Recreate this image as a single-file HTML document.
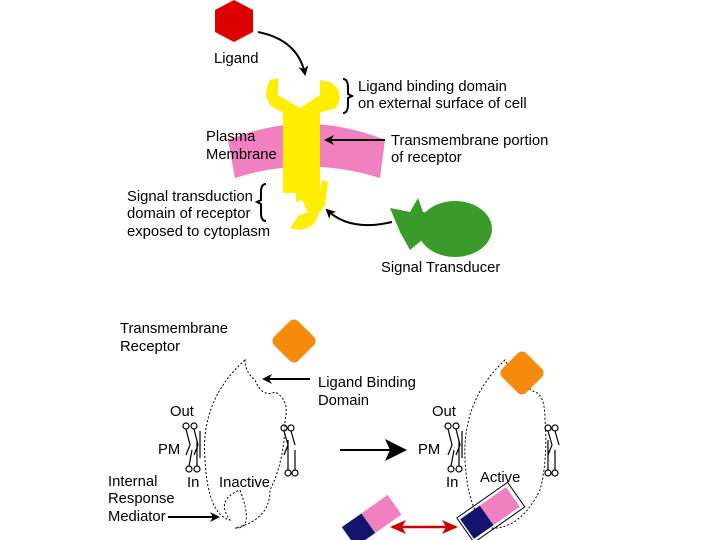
<!DOCTYPE html>
<html><head><meta charset="utf-8"><style>
html,body{margin:0;padding:0;background:#fff}
svg{display:block}
text{font-family:"Liberation Sans",sans-serif;font-size:14.8px;fill:#000}
</style></head><body>
<svg width="720" height="540" viewBox="0 0 720 540">
<defs>
<marker id="ah" markerWidth="10" markerHeight="10" refX="8" refY="5" orient="auto" markerUnits="userSpaceOnUse"><path d="M0,0 L10,5 L0,10 L3,5 Z" fill="#000"/></marker>
<marker id="bh" markerWidth="22" markerHeight="22" refX="20" refY="11" orient="auto" markerUnits="userSpaceOnUse"><path d="M0,0 L22,11 L0,22 L5,11 Z" fill="#000"/></marker>
<marker id="rh" markerWidth="16" markerHeight="14" refX="14" refY="7" orient="auto" markerUnits="userSpaceOnUse"><path d="M0,0 L16,7 L0,14 L4,7 Z" fill="#c00"/></marker>
<marker id="rt" markerWidth="16" markerHeight="14" refX="2" refY="7" orient="auto" markerUnits="userSpaceOnUse"><path d="M16,0 L0,7 L16,14 L12,7 Z" fill="#c00"/></marker>
</defs>
<!-- top -->
<polygon points="234,0 253,10 253,32 234,42 215,32 215,10" fill="#dd0000"/>
<text x="214" y="63">Ligand</text>
<path d="M258,32 Q298,40 305,74" fill="none" stroke="#000" stroke-width="2" marker-end="url(#ah)"/>
<path d="M228,140 Q306,108 385,140 L380,178 Q306,155 235,178 Z" fill="#f080c0"/>
<g fill="#ffee00">
<path d="M270,80 L278,78 L278,95 L300,108 L320,95 L320,80 L330,82 Q346,92 336,108 L322,112 L283,112 Q258,104 270,80 Z"/>
<rect x="283" y="108" width="37" height="85"/>
<path d="M283,190 L320,190 L322,180 L328,182 L325,205 L318,215 Q315,228 300,230 L290,228 L298,216 L308,212 L302,200 L296,202 L296,190 Z"/>
</g>
<path d="M343,79 Q348,79 348,88 L348,94 L352,96 L348,98 L348,104 Q348,113 343,113" fill="none" stroke="#000" stroke-width="2"/>
<text x="358" y="91">Ligand binding domain</text>
<text x="358" y="108">on external surface of cell</text>
<text x="206" y="141">Plasma</text>
<text x="206" y="159">Membrane</text>
<line x1="385" y1="140" x2="326" y2="140" stroke="#000" stroke-width="2" marker-end="url(#ah)"/>
<text x="391" y="145">Transmembrane portion</text>
<text x="391" y="162">of receptor</text>
<path d="M266,184 Q261,184 261,192 L261,200 L257,202 L261,204 L261,213 Q261,221 266,221" fill="none" stroke="#000" stroke-width="2"/>
<text x="127" y="201">Signal transduction</text>
<text x="127" y="218">domain of receptor</text>
<text x="127" y="236">exposed to cytoplasm</text>
<ellipse cx="455" cy="229" rx="37" ry="28" fill="#3a9a2a"/>
<polygon points="390,208 410,212 418,198 423,212 440,215 428,235 410,250 400,232" fill="#3a9a2a"/>
<path d="M392,222 Q350,232 327,210" fill="none" stroke="#000" stroke-width="2" marker-end="url(#ah)"/>
<text x="381" y="272">Signal Transducer</text>
<!-- bottom -->
<text x="120" y="333">Transmembrane</text>
<text x="120" y="351">Receptor</text>
<rect x="277" y="324" width="34" height="34" rx="6" transform="rotate(45 294 341)" fill="#f58a0c"/>
<path d="M245,360 Q200,400 205,460 Q208,515 230,520 Q215,500 240,490 Q255,530 235,528 Q270,520 270,490 Q285,460 285,420 Q290,400 275,392 Q262,398 255,380 Q245,372 245,360 Z" fill="none" stroke="#000" stroke-width="1" stroke-dasharray="2,2"/>
<line x1="310" y1="379" x2="264" y2="379" stroke="#000" stroke-width="2" marker-end="url(#ah)"/>
<text x="318" y="387">Ligand Binding</text>
<text x="318" y="405">Domain</text>
<text x="170" y="416">Out</text>
<text x="158" y="454">PM</text>
<text x="187" y="487">In</text>
<text x="219" y="487">Inactive</text>
<text x="108" y="486">Internal</text>
<text x="108" y="503">Response</text>
<text x="108" y="521">Mediator</text>
<line x1="168" y1="517" x2="218" y2="517" stroke="#000" stroke-width="2" marker-end="url(#ah)"/>
<g fill="none" stroke="#000" stroke-width="1.2">
<circle cx="186" cy="426" r="3"/><circle cx="194" cy="426" r="3"/><circle cx="197" cy="469" r="3"/><circle cx="189" cy="469" r="3"/>
<path d="M186,429 L190,445 L186,455 M194,429 L198,445 L194,455 M200,431 L200,458 M189,466 L192,450 M197,466 L197,440"/>
<circle cx="284" cy="428" r="3"/><circle cx="291" cy="428" r="3"/><circle cx="288" cy="473" r="3"/><circle cx="295" cy="473" r="3"/>
<path d="M284,431 L288,445 L284,455 M291,431 L295,445 M288,470 L288,440 M295,470 L295,450"/>
<circle cx="448" cy="426" r="3"/><circle cx="456" cy="426" r="3"/><circle cx="459" cy="469" r="3"/><circle cx="451" cy="469" r="3"/>
<path d="M448,429 L452,445 L448,455 M456,429 L460,445 L456,455 M462,431 L462,458 M451,466 L454,450 M459,466 L459,440"/>
<circle cx="548" cy="428" r="3"/><circle cx="555" cy="428" r="3"/><circle cx="548" cy="473" r="3"/><circle cx="555" cy="473" r="3"/>
<path d="M548,431 L552,445 L548,455 M555,431 L559,445 M548,470 L548,440 M555,470 L555,450"/>
</g>
<line x1="340" y1="450" x2="405" y2="450" stroke="#000" stroke-width="2" marker-end="url(#bh)"/>
<text x="432" y="416">Out</text>
<text x="418" y="454">PM</text>
<text x="446" y="487">In</text>
<text x="480" y="482">Active</text>
<path d="M505,360 Q462,400 465,460 Q468,515 490,528 Q520,530 540,490 Q548,460 545,420 Q545,395 535,392 Q520,385 510,370 Z" fill="none" stroke="#000" stroke-width="1" stroke-dasharray="2,2"/>
<rect x="505" y="356" width="34" height="34" rx="6" transform="rotate(45 522 373)" fill="#f58a0c"/>
<g transform="rotate(-35 370 522)"><rect x="344" y="510" width="24" height="24" fill="#14146e"/><rect x="368" y="510" width="32" height="24" fill="#f080c0"/></g>
<g transform="rotate(-35 490 513)"><rect x="462" y="501" width="24" height="24" fill="#14146e"/><rect x="486" y="501" width="32" height="24" fill="#f080c0"/><rect x="460" y="498" width="62" height="30" fill="none" stroke="#000" stroke-width="1"/></g>
<line x1="392" y1="527" x2="456" y2="527" stroke="#c00" stroke-width="2.5" marker-end="url(#rh)" marker-start="url(#rt)"/>
</svg>
</body></html>
